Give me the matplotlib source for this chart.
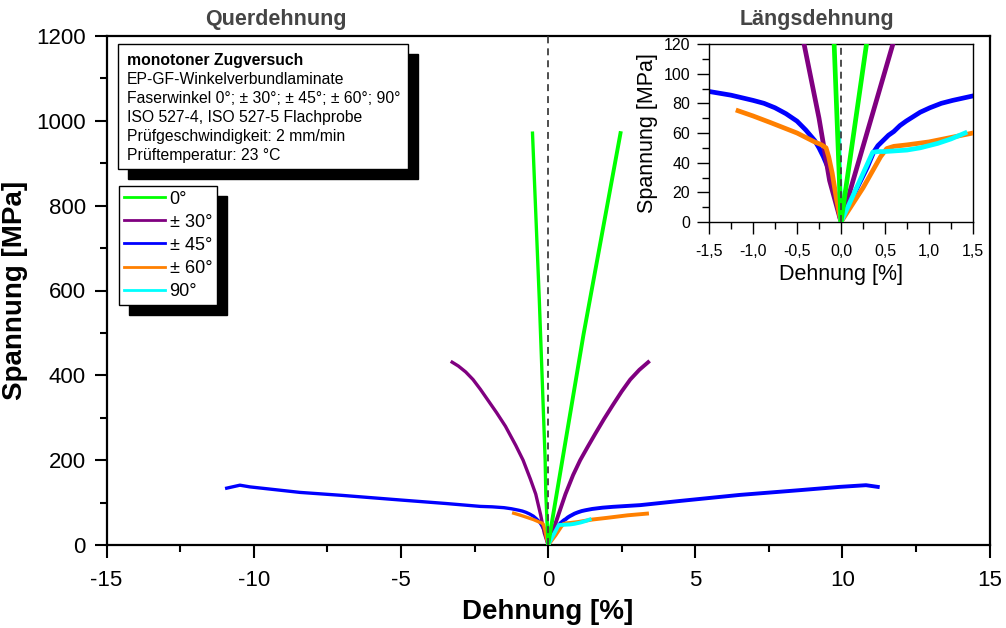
import matplotlib
matplotlib.use("Agg")
import matplotlib.pyplot as plt
from matplotlib.patches import Rectangle
from matplotlib.ticker import MultipleLocator, FixedLocator
from matplotlib.transforms import IdentityTransform

plt.rcParams["font.family"] = ["Liberation Sans", "DejaVu Sans"]
plt.rcParams["axes.unicode_minus"] = False
plt.rcParams["lines.scale_dashes"] = False

W, H = 1006, 628

# ---- data: strain [%] and stress [MPa]; negative strain = Querdehnung, positive = Längsdehnung
labels = ["0°", "± 30°", "± 45°", "± 60°", "90°"]
colors = ["#00ff00", "#800080", "#0000ff", "#ff8000", "#00ffff"]

eps_00_q = [0, -0.078, -0.10, -0.30, -0.53]
sig_00_q = [0, 120, 200, 580, 971]
eps_00_l = [0, 0.29, 1.20, 2.46]
sig_00_l = [0, 120, 495, 971]

eps_30_q = [0, -0.13, -0.25, -0.42, -0.60, -0.85, -1.10, -1.45, -1.75, -2.05,
            -2.30, -2.55, -2.80, -3.05, -3.26]
sig_30_q = [0, 28, 70, 120, 155, 200, 235, 280, 312, 342,
            367, 390, 408, 422, 431]
eps_30_l = [0, 0.30, 0.59, 0.85, 1.09, 1.35, 1.60, 1.90, 2.20, 2.50, 2.79, 3.10, 3.40]
sig_30_l = [0, 61, 120, 165, 200, 232, 262, 297, 330, 362, 390, 413, 431]

eps_45_q = [0, -0.05, -0.10, -0.15, -0.20, -0.25, -0.30, -0.40, -0.50, -0.625, -0.75,
            -0.875, -1.00, -1.25, -1.50, -1.90, -2.30, -3.50, -5.00, -7.00, -8.43,
            -10.13, -10.47, -10.92]
sig_45_q = [0, 15, 28, 37, 44, 50, 55, 62, 68, 73, 77,
            80, 82, 85.5, 88, 90, 91, 98, 106, 117, 124,
            137, 141, 134]
eps_45_l = [0, 0.10, 0.20, 0.30, 0.37, 0.42, 0.48, 0.54, 0.60, 0.67, 0.74, 0.82, 0.90,
            1.01, 1.14, 1.27, 1.50, 1.85, 2.20, 3.13, 4.50, 6.50, 8.50, 9.90, 10.80, 11.20]
sig_45_l = [0, 13, 25, 37, 47, 51.5, 55, 58.5, 61, 65, 68, 71, 74,
            77, 80, 82, 85, 88, 90, 94, 104, 118, 129, 137, 141, 137]

eps_60_q = [0, -0.05, -0.10, -0.14, -0.17, -0.22, -0.30, -0.40, -0.50, -0.65, -0.80,
            -1.00, -1.17]
sig_60_q = [0, 15, 33, 44, 50, 52, 54, 57, 60, 63.5, 67, 71.5, 75]
eps_60_l = [0, 0.25, 0.45, 0.52, 0.60, 0.75, 1.00, 1.25, 1.50, 2.00, 2.70, 3.36]
sig_60_l = [0, 23, 44, 49.5, 51, 52, 54, 57, 60, 64, 70, 74]

eps_90_q = [0, -0.010, -0.020, -0.025]
sig_90_q = [0, 20, 40, 60]
eps_90_l = [0, 0.36, 0.42, 0.50, 0.75, 0.90, 1.10, 1.25, 1.41]
sig_90_l = [0, 47, 47.5, 47.5, 48.5, 50, 53, 56, 60]

series = [
    (eps_00_q, sig_00_q, eps_00_l, sig_00_l),
    (eps_30_q, sig_30_q, eps_30_l, sig_30_l),
    (eps_45_q, sig_45_q, eps_45_l, sig_45_l),
    (eps_60_q, sig_60_q, eps_60_l, sig_60_l),
    (eps_90_q, sig_90_q, eps_90_l, sig_90_l),
]
# drawing order (later = on top)
z_order = [5, 3, 2, 4, 4.5]

x_ticks = [-15, -10, -5, 0, 5, 10, 15]
y_ticks = [0, 200, 400, 600, 800, 1000, 1200]
inset_x_ticks = [-1.5, -1.0, -0.5, 0.0, 0.5, 1.0, 1.5]
inset_x_labels = ["-1,5", "-1,0", "-0,5", "0,0", "0,5", "1,0", "1,5"]
inset_y_ticks = [0, 20, 40, 60, 80, 100, 120]

info_lines = [
    "monotoner Zugversuch",
    "EP-GF-Winkelverbundlaminate",
    "Faserwinkel 0°; ± 30°; ± 45°; ± 60°; 90°",
    "ISO 527-4, ISO 527-5 Flachprobe",
    "Prüfgeschwindigkeit: 2 mm/min",
    "Prüftemperatur: 23 °C",
]


def fx(px):
    return px / W


def fy(py):
    return 1 - py / H


fig = plt.figure(figsize=(W / 100, H / 100), dpi=100)

# ---- main axes
ax = fig.add_axes([fx(106.6), fy(545), (989.6 - 106.6) / W, (545 - 36) / H])
ax.set_xlim(-15, 15)
ax.set_ylim(0, 1200)

handles = []
for (eq, sq, el, sl), c, lab, z in zip(series, colors, labels, z_order):
    h, = ax.plot(eq, sq, color=c, lw=2.4, zorder=z, label=lab, solid_joinstyle="round")
    ax.plot(el, sl, color=c, lw=2.8, zorder=z, solid_joinstyle="round")
    handles.append(h)

ax.axvline(0, color="#404040", lw=1.3, dashes=(5, 3.6), zorder=6)

ax.xaxis.set_major_locator(FixedLocator(x_ticks))
ax.yaxis.set_major_locator(FixedLocator(y_ticks))
ax.xaxis.set_minor_locator(MultipleLocator(2.5))
ax.yaxis.set_minor_locator(MultipleLocator(100))
ax.tick_params(which="both", direction="out", top=False, right=False, width=1.5)
ax.tick_params(which="major", length=9, labelsize=16)
ax.tick_params(axis="x", which="major", pad=9)
ax.tick_params(axis="y", which="major", pad=6)
ax.tick_params(which="minor", length=4.8)
for sp in ax.spines.values():
    sp.set_linewidth(1.6)

ax.set_xlabel("Dehnung [%]", fontsize=20, fontweight="bold", labelpad=6)
ax.set_ylabel("Spannung [MPa]", fontsize=20, fontweight="bold", labelpad=6)

# panel headings
fig.text(fx(276), fy(20), "Querdehnung", fontsize=15.5, fontweight="bold",
         color="#454545", ha="center", va="center")
fig.text(fx(817), fy(20), "Längsdehnung", fontsize=15.5, fontweight="bold",
         color="#454545", ha="center", va="center")

# ---- info box with drop shadow
box_l, box_t, box_r, box_b = 118, 44, 408, 169
sh = 10
ax.add_patch(Rectangle((fx(box_l + sh), fy(box_b + sh)), (box_r - box_l) / W,
                       (box_b - box_t) / H, transform=fig.transFigure,
                       facecolor="black", edgecolor="black", clip_on=False, zorder=7))
ax.add_patch(Rectangle((fx(box_l), fy(box_b)), (box_r - box_l) / W,
                       (box_b - box_t) / H, transform=fig.transFigure,
                       facecolor="white", edgecolor="black", lw=1.0, clip_on=False, zorder=8))
line_y = [61, 80, 98.5, 117.5, 137, 156]
for i, (txt, yy) in enumerate(zip(info_lines, line_y)):
    ax.text(fx(127), fy(yy), txt, transform=fig.transFigure, fontsize=11.3,
            fontweight="bold" if i == 0 else "normal", ha="left", va="center",
            zorder=9)

# ---- legend with drop shadow
leg = ax.legend(handles=handles, loc="upper left", bbox_to_anchor=(fx(119), fy(186)),
                bbox_transform=fig.transFigure, borderaxespad=0, fontsize=13,
                frameon=True, fancybox=False, edgecolor="black", framealpha=1,
                handlelength=2.3, handletextpad=0.25, labelspacing=0.34,
                borderpad=0.25)
leg.get_frame().set_linewidth(1.0)
leg.set_zorder(8)
for ln in leg.get_lines():
    ln.set_linewidth(2.0)

# ---- inset: detail around the origin
ax2 = fig.add_axes([fx(709), fy(222), 264 / W, 178 / H])
ax2.set_xlim(-1.5, 1.5)
ax2.set_ylim(0, 120)
for (eq, sq, el, sl), c, z in zip(series, colors, z_order):
    ax2.plot(eq, sq, color=c, lw=3.4, zorder=z, solid_joinstyle="round")
    ax2.plot(el, sl, color=c, lw=3.4, zorder=z, solid_joinstyle="round")
ax2.axvline(0, color="#404040", lw=1.3, dashes=(5, 3.6), zorder=6)
ax2.xaxis.set_major_locator(FixedLocator(inset_x_ticks))
ax2.set_xticklabels(inset_x_labels)
ax2.yaxis.set_major_locator(FixedLocator(inset_y_ticks))
ax2.xaxis.set_minor_locator(MultipleLocator(0.25))
ax2.yaxis.set_minor_locator(MultipleLocator(10))
ax2.tick_params(which="both", direction="out", top=False, right=False, width=1.0)
ax2.tick_params(which="major", length=8.5, labelsize=11.5)
ax2.tick_params(axis="x", which="major", pad=7)
ax2.tick_params(axis="y", which="major", pad=5)
ax2.tick_params(which="minor", length=5)
for sp in ax2.spines.values():
    sp.set_linewidth(1.0)
ax2.set_xlabel("Dehnung [%]", fontsize=15.5, labelpad=4)
ax2.set_ylabel("Spannung [MPa]", fontsize=15.5, labelpad=4)

# shadow behind legend, sized from the rendered legend frame
fig.canvas.draw()
bb = leg.get_window_extent()
ax.add_patch(Rectangle((bb.x0 + sh, bb.y0 - sh), bb.width, bb.height,
                       transform=IdentityTransform(), facecolor="black",
                       edgecolor="black", clip_on=False, zorder=7))

fig.savefig("out.png", dpi=100)
